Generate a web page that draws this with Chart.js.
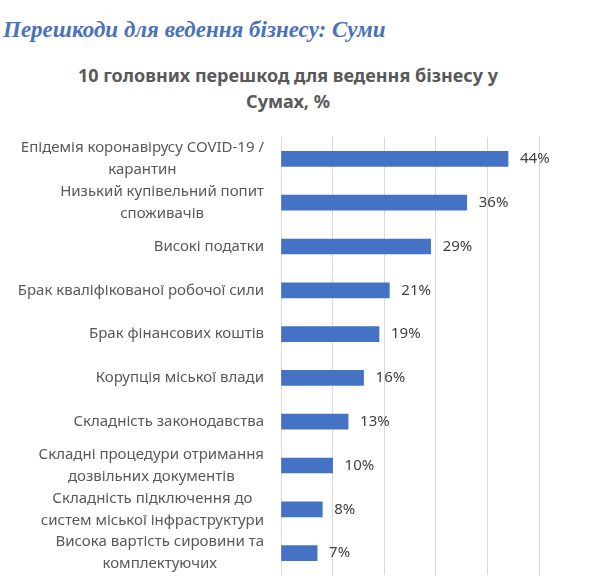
<!DOCTYPE html>
<html lang="uk">
<head>
<meta charset="utf-8">
<script src="https://cdn.jsdelivr.net/npm/chart.js@4"></script>
<style>
    html, body { margin: 0; padding: 0; background: #fff; }
    #page { position: relative; width: 594px; height: 588px; overflow: hidden; }
    #heading {
        position: absolute; left: 3px; top: 16px; margin: 0;
        font-family: "Liberation Serif", serif; font-style: italic; font-weight: bold;
        font-size: 23px; line-height: 28px; color: #4a72b8; white-space: nowrap;
    }
    #title {
        position: absolute; left: 0; top: 62px; width: 576px; margin: 0;
        font-family: "Noto Sans", sans-serif; font-weight: bold; font-size: 18px;
        line-height: 26px; color: #595959; text-align: center;
    }
    #wrap { position: absolute; left: 0; top: 0; width: 594px; height: 588px; }
</style>
</head>
<body>
<div id="page">
    <h1 id="heading">Перешкоди для ведення бізнесу: Суми</h1>
    <div id="title"></div>
    <div id="wrap"><canvas id="chart"></canvas></div>
</div>
<script>
// Categories (each line of a label is a separate string)
const categories = [
    ['Епідемія коронавірусу COVID-19 /', 'карантин'],
    ['Низький купівельний попит', 'споживачів'],
    ['Високі податки'],
    ['Брак кваліфікованої робочої сили'],
    ['Брак фінансових коштів'],
    ['Корупція міської влади'],
    ['Складність законодавства'],
    ['Складні процедури отримання', 'дозвільних документів'],
    ['Складність підключення до', 'систем міської інфраструктури'],
    ['Висока вартість сировини та', 'комплектуючих']
];
const shares = [44, 36, 29, 21, 19, 16, 13, 10, 8, 7];
const chartTitle = ['10 головних перешкод для ведення бізнесу у', 'Сумах, %'];

document.getElementById('title').innerHTML = chartTitle.join('<br>');

const LABEL_FONT = '15px "Noto Sans", sans-serif';
const AXIS_LEFT = 281;

// Category labels: right-aligned block, lines centred within the block
const categoryLabels = {
    id: 'categoryLabels',
    afterDraw(chart) {
        const ctx = chart.ctx;
        const yScale = chart.scales.y;
        const right = AXIS_LEFT - 17;
        const lineH = 22;
        ctx.save();
        ctx.font = LABEL_FONT;
        ctx.fillStyle = '#595959';
        ctx.textAlign = 'center';
        ctx.textBaseline = 'middle';
        categories.forEach((lines, i) => {
            const y = yScale.getPixelForValue(i);
            const maxW = Math.max(...lines.map(l => ctx.measureText(l).width));
            const cx = right - maxW / 2;
            const top = y - (lines.length - 1) * lineH / 2;
            lines.forEach((line, j) => ctx.fillText(line, cx, top + j * lineH));
        });
        ctx.restore();
    }
};

// Value labels at the end of each bar
const valueLabels = {
    id: 'valueLabels',
    afterDatasetsDraw(chart) {
        const ctx = chart.ctx;
        const meta = chart.getDatasetMeta(0);
        ctx.save();
        ctx.font = '15px "Noto Sans", sans-serif';
        ctx.fillStyle = '#404040';
        ctx.textAlign = 'left';
        ctx.textBaseline = 'middle';
        meta.data.forEach((bar, i) => {
            ctx.fillText(shares[i] + '%', bar.x + 12, bar.y);
        });
        ctx.restore();
    }
};

new Chart(document.getElementById('chart'), {
    type: 'bar',
    data: {
        labels: categories,
        datasets: [{
            data: shares,
            backgroundColor: '#4472c4',
            borderWidth: 0,
            barThickness: 15
        }]
    },
    options: {
        indexAxis: 'y',
        responsive: true,
        maintainAspectRatio: false,
        animation: false,
        layout: { padding: { left: 0, right: 55, top: 137, bottom: 13 } },
        plugins: {
            legend: { display: false },
            tooltip: { enabled: false },
            title: { display: false }
        },
        scales: {
            x: {
                min: 0,
                max: 50,
                ticks: { display: false, stepSize: 10 },
                border: { display: false },
                grid: { color: '#d9d9d9', lineWidth: 1, drawTicks: false }
            },
            y: {
                ticks: { display: false },
                grid: { display: false },
                border: { display: false },
                afterFit(scale) { scale.width = AXIS_LEFT; }
            }
        }
    },
    plugins: [categoryLabels, valueLabels]
});
</script>
</body>
</html>
